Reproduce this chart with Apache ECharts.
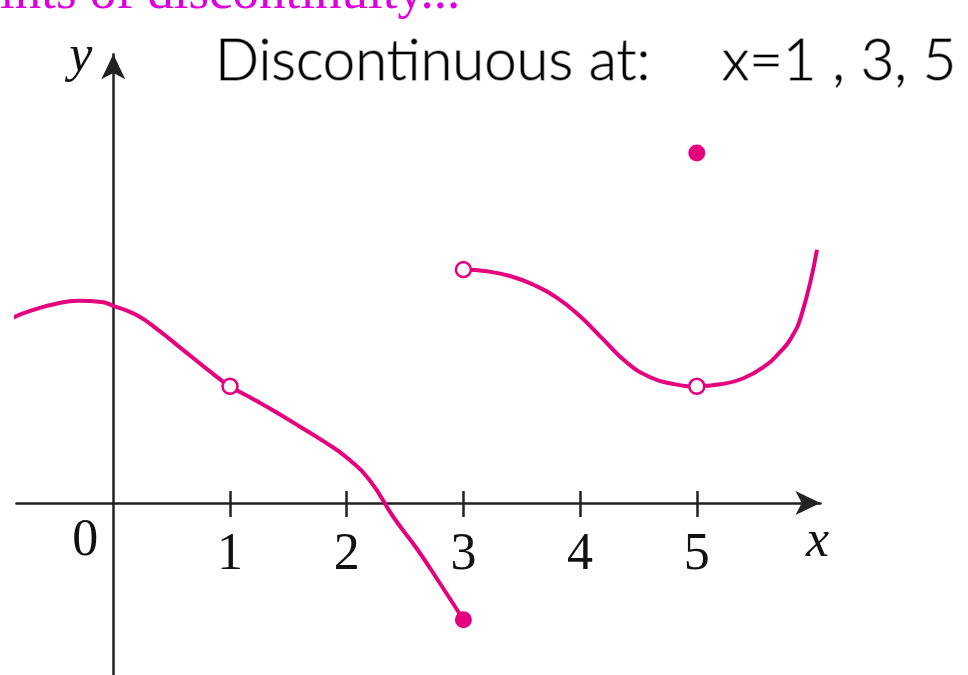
<!DOCTYPE html>
<html>
<head>
<meta charset="utf-8">
<script src="https://cdn.jsdelivr.net/npm/echarts@6/dist/echarts.min.js"></script>
<style>
html,body{margin:0;padding:0;background:#fff;}
#chart{width:968px;height:675px;}
</style>
</head>
<body>
<div id="chart"></div>
<script>
// ---- data ----
var tickValues = [1, 2, 3, 4, 5];
var originLabel = [0];
var leftX = [-0.86, -0.7, -0.5, -0.3, -0.1, 0, 0.2, 0.4, 0.6, 0.8, 1.0, 1.2, 1.4, 1.6, 1.8, 2.0, 2.2, 2.4, 2.6, 2.8, 3.0];
var leftY = [1.588, 1.65, 1.705, 1.733, 1.722, 1.69, 1.61, 1.47, 1.31, 1.15, 1.0, 0.89, 0.775, 0.654, 0.53, 0.39, 0.19, -0.12, -0.39, -0.69, -1.0];
var rightX = [3.0, 3.2, 3.4, 3.6, 3.8, 4.0, 4.2, 4.4, 4.6, 4.8, 5.0, 5.2, 5.4, 5.6, 5.7, 5.8, 5.9, 6.03];
var rightY = [2.0, 1.985, 1.945, 1.87, 1.76, 1.6, 1.4, 1.204, 1.078, 1.02, 1.0, 1.017, 1.069, 1.185, 1.28, 1.4, 1.62, 2.17];
var openX = [1, 3, 5];
var openY = [1, 2, 1];
var filledX = [3, 5];
var filledY = [-1, 3];
var titleText = 'Points of discontinuity...';
var noteText1 = 'Discontinuous at:';
var noteText2 = 'x=1 , 3, 5';

function zip(a, b) { return a.map(function (v, i) { return [v, b[i]]; }); }

// ---- layout ----
var U = 116.7, OX = 113.3, OY = 503;
var xMin = -0.83, xMax = 6.06, yMin = -1.5, yMax = 3.846;
var MAG = '#e5007d';
var AX = '#222';
var serif = '"Liberation Serif", "DejaVu Serif", serif';
var xAxisOffset = yMin * U;      // lift x axis from grid bottom up to y = 0
var yAxisOffset = xMin * U;      // move y axis from grid left to x = 0

var chart = echarts.init(document.getElementById('chart'), null, {renderer: 'canvas'});
var option = {
  animation: false,
  backgroundColor: '#fff',
  grid: {
    left: OX + xMin * U,
    top: OY - yMax * U,
    width: (xMax - xMin) * U,
    height: (yMax - yMin) * U,
    containLabel: false,
    outerBoundsMode: 'none'
  },
  xAxis: [{
    type: 'value', min: xMin, max: xMax, position: 'bottom', offset: xAxisOffset,
    splitLine: {show: false},
    axisLine: {show: true, onZero: false, symbol: ['none', 'arrow'], symbolSize: [18, 25],
      lineStyle: {color: AX, width: 2.5}},
    axisTick: {show: true, inside: false, length: 14, customValues: tickValues,
      lineStyle: {color: AX, width: 2.5}},
    axisLabel: {show: true, customValues: tickValues, margin: 26,
      fontFamily: serif, fontSize: 52, color: '#111'},
    name: 'x', nameLocation: 'end', nameGap: -3,
    nameTextStyle: {fontFamily: serif, fontStyle: 'italic', fontSize: 52, color: '#111',
      align: 'center', verticalAlign: 'top', padding: [13, 0, 0, 0]}
  }, {
    type: 'value', min: xMin, max: xMax, position: 'bottom', offset: xAxisOffset,
    splitLine: {show: false},
    axisLine: {show: false, onZero: false},
    axisTick: {show: true, inside: true, length: 12, customValues: tickValues,
      lineStyle: {color: AX, width: 2.5}},
    axisLabel: {show: true, customValues: originLabel, margin: 12, align: 'right',
      padding: [0, 15, 0, 0],
      fontFamily: serif, fontSize: 52, color: '#111'}
  }],
  yAxis: {
    type: 'value', min: yMin, max: yMax, position: 'left', offset: yAxisOffset,
    splitLine: {show: false},
    axisLine: {show: true, onZero: false, symbol: ['none', 'arrow'], symbolSize: [18, 25],
      lineStyle: {color: AX, width: 2.5}},
    axisTick: {show: false},
    axisLabel: {show: false},
    name: 'y', nameLocation: 'end', nameGap: -3,
    nameTextStyle: {fontFamily: serif, fontStyle: 'italic', fontSize: 52, color: '#111',
      align: 'right', verticalAlign: 'middle', padding: [0, 21, 0, 0]}
  },
  series: [{
    type: 'line', data: zip(leftX, leftY), smooth: 0.5, showSymbol: false,
    lineStyle: {color: MAG, width: 4}, z: 3
  }, {
    type: 'line', data: zip(rightX, rightY), smooth: 0.5, showSymbol: false,
    lineStyle: {color: MAG, width: 4}, z: 3
  }, {
    type: 'scatter', data: zip(openX, openY), symbol: 'circle', symbolSize: 15,
    itemStyle: {color: '#fff', borderColor: MAG, borderWidth: 2.5, opacity: 1}, z: 5
  }, {
    type: 'scatter', data: zip(filledX, filledY), symbol: 'circle', symbolSize: 17,
    itemStyle: {color: MAG, opacity: 1}, z: 5
  }],
  graphic: [{
    type: 'text', z: 10,
    x: -56, y: -6,
    style: {text: titleText, font: '53px ' + serif, fill: '#dd00dd',
      align: 'left', verticalAlign: 'middle'}
  }, {
    type: 'text', z: 10,
    x: 215, y: 61,
    style: {text: noteText1, font: '300 58px Lato, "DejaVu Sans", sans-serif', fill: '#000',
      stroke: '#999', lineWidth: 1.5, align: 'left', verticalAlign: 'middle'}
  }, {
    type: 'text', z: 10,
    x: 722, y: 61,
    style: {text: noteText2, font: '300 58px Lato, "DejaVu Sans", sans-serif', fill: '#000',
      stroke: '#999', lineWidth: 1.5, align: 'left', verticalAlign: 'middle'}
  }]
};
chart.setOption(option);
</script>
</body>
</html>
